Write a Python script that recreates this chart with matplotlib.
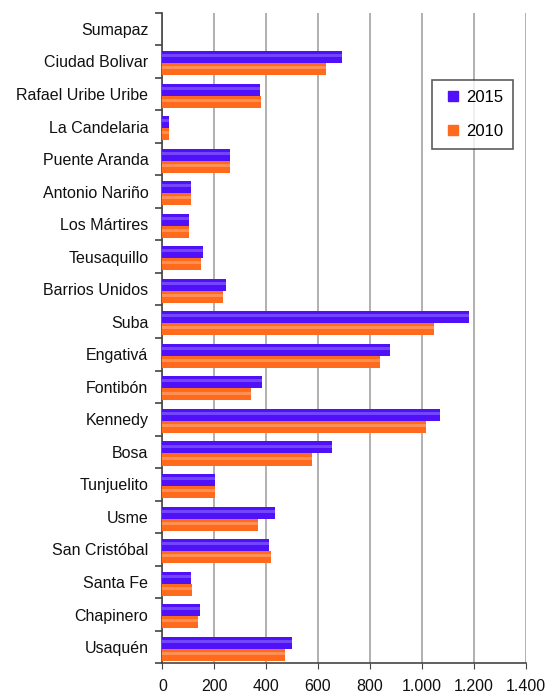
import matplotlib
matplotlib.use("Agg")
import matplotlib.pyplot as plt
import numpy as np
from matplotlib.ticker import FuncFormatter, MultipleLocator
from matplotlib.lines import Line2D

plt.rcParams['font.family'] = ['Liberation Sans', 'DejaVu Sans']

# categories listed bottom to top
categories = ["Usaquén", "Chapinero", "Santa Fe", "San Cristóbal", "Usme", "Tunjuelito",
              "Bosa", "Kennedy", "Fontibón", "Engativá", "Suba", "Barrios Unidos",
              "Teusaquillo", "Los Mártires", "Antonio Nariño", "Puente Aranda",
              "La Candelaria", "Rafael Uribe Uribe", "Ciudad Bolivar", "Sumapaz"]
v2015 = [501, 144, 112, 410, 434, 204, 652, 1070, 385, 876, 1180, 247,
         155, 102, 109, 262, 26, 378, 693, 0]
v2010 = [471, 139, 113, 417, 367, 204, 575, 1016, 343, 840, 1047, 235,
         150, 102, 110, 262, 26, 380, 632, 0]
xticks = [0, 200, 400, 600, 800, 1000, 1200, 1400]

fig = plt.figure(figsize=(5.46, 6.94), dpi=100)
ax = fig.add_axes([0.2973, 0.0442, 0.6655, 0.9375])

y = np.arange(len(categories))
h = 0.37
c15 = '#5010F8'
c10 = '#FF6A1C'
ax.barh(y + h / 2 - 0.05, v2015, height=h, color=c15, label='2015', zorder=3)
ax.barh(y - h / 2 - 0.05, v2010, height=h, color=c10, label='2010', zorder=3)
# light highlight stripes for the glossy look
ax.barh(y + h / 2 - 0.05 + h * 0.12, v2015, height=h * 0.25, color='#8A6BFF', zorder=4, alpha=0.6)
ax.barh(y - h / 2 - 0.05 + h * 0.12, v2010, height=h * 0.25, color='#FFA877', zorder=4, alpha=0.6)

ax.set_xlim(0, 1400)
ax.set_ylim(-0.5, len(categories) - 0.5)
ax.set_xticks(xticks)
ax.xaxis.set_major_formatter(FuncFormatter(lambda v, p: f"{int(v):,}".replace(",", ".")))
ax.set_yticks(y)
ax.set_yticklabels(categories, fontsize=11.5, color='#111111')
ax.yaxis.set_minor_locator(MultipleLocator(1, offset=0.5))
ax.tick_params(axis='y', which='major', length=0, pad=10)
ax.tick_params(axis='y', which='minor', length=5, width=1.2, color='#444444')
ax.tick_params(axis='x', labelsize=11.5, length=4, color='#444444', pad=7, labelcolor='#111111')
ax.grid(axis='x', color='#aaaaaa', linewidth=1.3, zorder=0)
for s in ['top', 'right']:
    ax.spines[s].set_visible(False)
ax.spines['left'].set_color('#444444')
ax.spines['left'].set_linewidth(1.2)
ax.spines['bottom'].set_color('#444444')
ax.spines['bottom'].set_linewidth(1.2)

handles = [Line2D([], [], marker='s', linestyle='', color=c15, markersize=7),
           Line2D([], [], marker='s', linestyle='', color=c10, markersize=7)]
leg = ax.legend(handles, ['2015', '2010'], loc='upper left', bbox_to_anchor=(0.742, 0.897),
                fontsize=12, frameon=True, fancybox=False, edgecolor='#333333',
                labelspacing=1.15, handletextpad=0.15, borderpad=0.6, handlelength=1.3,
                borderaxespad=0)
leg.get_frame().set_linewidth(1.2)

fig.savefig('out.png', dpi=100)
